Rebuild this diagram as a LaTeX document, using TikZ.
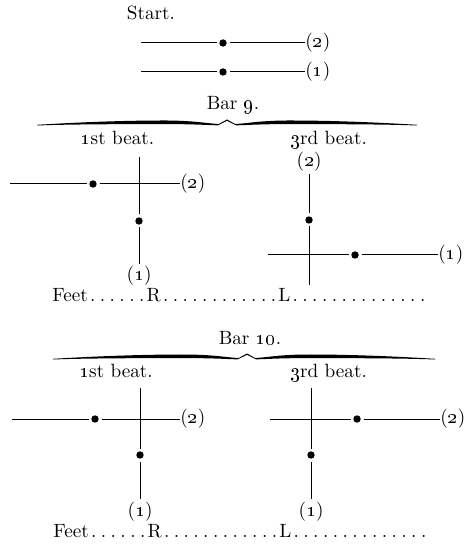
\documentclass[tikz,border=0pt]{standalone}
\newcommand\osn[1]{\oldstylenums{#1}}
\newcommand\leaderdots[1]{\foreach \i in {1,...,#1}{\makebox[4.9pt][c]{.}}}
\tikzset{
  txt/.style={font=\fontsize{9.6}{11}\selectfont, inner sep=0pt, anchor=base},
  endlabel/.style={font=\fontsize{9.6}{11}\selectfont, inner sep=1pt},
  sidelabel/.style={font=\fontsize{9.6}{11}\selectfont, inner sep=0pt, anchor=west},
  dotnode/.style={circle, fill=black, draw=none, inner sep=0pt, minimum size=3.7pt, outer sep=1.4pt},
  stroke/.style={line width=0.5pt, black},
  bracehalf/.pic={
    \fill[black] (0,0) -- (-8,4.4) .. controls (-18,4.4) and (-30,1.2) .. (-60,1.0)
      .. controls (-110,0.9) and (-160,3.5) .. (-190,5.3) -- (-190,6.0)
      .. controls (-160,4.8) and (-110,4.6) .. (-60,4.6)
      .. controls (-30,4.6) and (-18,5.8) .. (-9,5.8) -- (0,1.3) -- cycle;
  }
}
\begin{document}
\begin{tikzpicture}[x=0.5pt,y=-0.5pt]
\useasboundingbox (0,0) rectangle (471,544);

% ---- Start position ----
\node[txt] (start) at (151,20) {Start.};
\coordinate (s2a) at (141,43);
\node[dotnode] (s2d) at (223,43) {};
\node[sidelabel] (s2n) at (305,43) {(\osn{2})};
\draw[stroke] (s2a) -- (s2d) -- (s2n);
\coordinate (s1a) at (141,72);
\node[dotnode] (s1d) at (223,72) {};
\node[sidelabel] (s1n) at (305,72) {(\osn{1})};
\draw[stroke] (s1a) -- (s1d) -- (s1n);

% ---- Bar 9 ----
\node[txt] (bar9) at (233,110) {Bar \osn{9}.};
\pic at (227,119.5) {bracehalf};
\pic[xscale=-1] at (227,119.5) {bracehalf};
\node[txt] (b9first) at (117.5,145) {\osn{1}st beat.};
\node[txt] (b9third) at (328.5,145) {\osn{3}rd beat.};

% first beat
\coordinate (b9h1a) at (10,184);
\node[dotnode] (b9h1d) at (93,184) {};
\node[sidelabel] (b9h1n) at (180,184) {(\osn{2})};
\draw[stroke] (b9h1a) -- (b9h1d) -- (b9h1n);
\coordinate (b9v1a) at (139,157);
\node[dotnode] (b9v1d) at (139,221) {};
\node[endlabel, anchor=base] (b9v1n) at (139,281) {(\osn{1})};
\draw[stroke] (b9v1a) -- (b9v1d) -- (b9v1n);

% third beat
\node[endlabel, anchor=south] (b9v3n) at (309,174) {(\osn{2})};
\node[dotnode] (b9v3d) at (309,220) {};
\coordinate (b9v3b) at (309,285);
\draw[stroke] (b9v3n) -- (b9v3d) -- (b9v3b);
\coordinate (b9h3a) at (268,255);
\node[dotnode] (b9h3d) at (355,255) {};
\node[sidelabel] (b9h3n) at (438,255) {(\osn{1})};
\draw[stroke] (b9h3a) -- (b9h3d) -- (b9h3n);

\node[txt, anchor=base west] (feet9) at (52,301)
  {Feet\leaderdots{6}R\leaderdots{12}L\leaderdots{14}};

% ---- Bar 10 ----
\node[txt] (bar10) at (250,344) {Bar \osn{10}.};
\pic[xscale=194/190] at (247,353.5) {bracehalf};
\pic[xscale=-188/190] at (247,353.5) {bracehalf};
\node[txt] (b10first) at (116,377) {\osn{1}st beat.};
\node[txt] (b10third) at (328.5,377) {\osn{3}rd beat.};

% first beat
\coordinate (b10h1a) at (12,419);
\node[dotnode] (b10h1d) at (95,419) {};
\node[sidelabel] (b10h1n) at (180,419) {(\osn{2})};
\draw[stroke] (b10h1a) -- (b10h1d) -- (b10h1n);
\coordinate (b10v1a) at (140,388);
\node[dotnode] (b10v1d) at (140,455) {};
\node[endlabel, anchor=base] (b10v1n) at (140,516) {(\osn{1})};
\draw[stroke] (b10v1a) -- (b10v1d) -- (b10v1n);

% third beat
\coordinate (b10h3a) at (270,419);
\node[dotnode] (b10h3d) at (357,419) {};
\node[sidelabel] (b10h3n) at (440,419) {(\osn{2})};
\draw[stroke] (b10h3a) -- (b10h3d) -- (b10h3n);
\coordinate (b10v3a) at (311,388);
\node[dotnode] (b10v3d) at (311,455) {};
\node[endlabel, anchor=base] (b10v3n) at (311,516) {(\osn{1})};
\draw[stroke] (b10v3a) -- (b10v3d) -- (b10v3n);

\node[txt, anchor=base west] (feet10) at (53,537)
  {Feet\leaderdots{6}R\leaderdots{12}L\leaderdots{14}};
\end{tikzpicture}
\end{document}
